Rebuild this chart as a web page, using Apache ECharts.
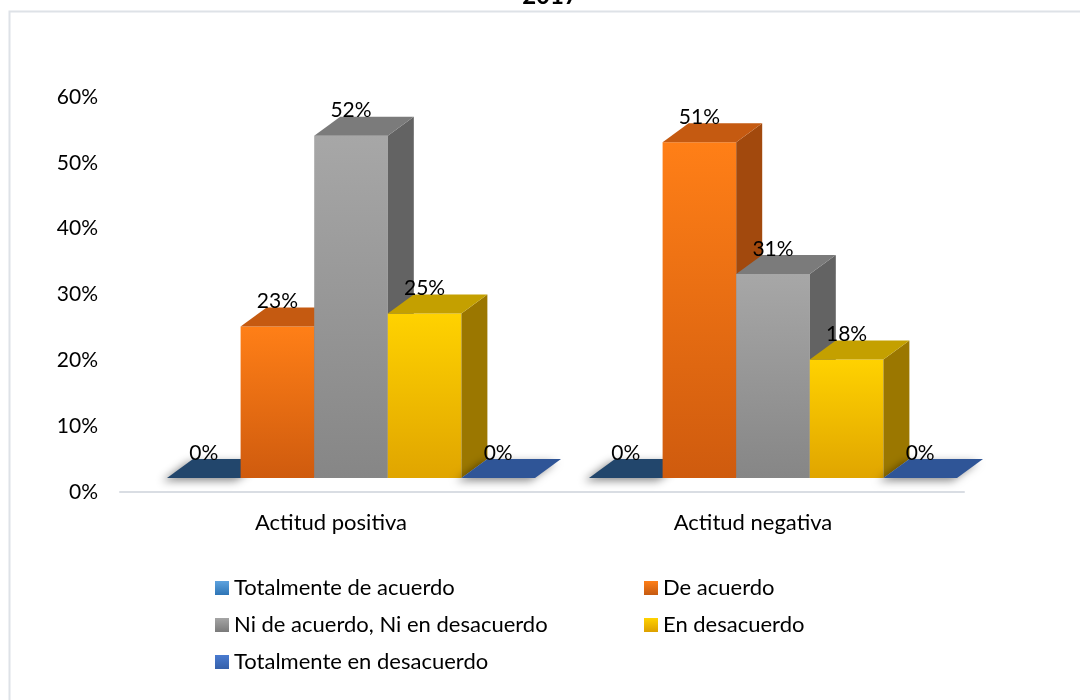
<!DOCTYPE html>
<html>
<head>
<meta charset="utf-8">
<script src="https://cdn.jsdelivr.net/npm/echarts@6/dist/echarts.min.js"></script>
<style>
  html, body { margin: 0; padding: 0; background: #fff; }
  #chart { width: 1080px; height: 700px; }
</style>
</head>
<body>
<div id="chart"></div>
<script>
// Categories and answer shares (percent)
const categories = ['Actitud positiva', 'Actitud negativa'];
const seriesNames = [
  'Totalmente de acuerdo',
  'De acuerdo',
  'Ni de acuerdo, Ni en desacuerdo',
  'En desacuerdo',
  'Totalmente en desacuerdo'
];
const totalmenteDeAcuerdo = [0, 0];
const deAcuerdo = [23, 51];
const niDeAcuerdoNiEnDesacuerdo = [52, 31];
const enDesacuerdo = [25, 18];
const totalmenteEnDesacuerdo = [0, 0];
const yAxisMin = 0;
const yAxisMax = 60;
const yAxisStep = 10;
const titleText = '2017';

const seriesValues = [
  totalmenteDeAcuerdo,
  deAcuerdo,
  niDeAcuerdoNiEnDesacuerdo,
  enDesacuerdo,
  totalmenteEnDesacuerdo
];

// Face colours for the pseudo-3D columns
const palette = [
  { front: ['#5B9BD5', '#2E75B6'], top: '#22466C', side: '#1A3A5C', legend: ['#5DA2DE', '#2E75B6'] },
  { front: ['#FF7F17', '#CF5B0E'], top: '#C55A11', side: '#A2490D', legend: ['#FF7F17', '#C55A11'] },
  { front: ['#A7A7A7', '#868686'], top: '#7B7B7B', side: '#636363', legend: ['#A5A5A5', '#7A7A7A'] },
  { front: ['#FFD200', '#E0A500'], top: '#C4A000', side: '#9B7700', legend: ['#FFD200', '#DDA000'] },
  { front: ['#4472C4', '#2F5597'], top: '#2F5597', side: '#26477E', legend: ['#4A7BD0', '#3560AA'] }
];

const FONT = 'Lato, "Open Sans", sans-serif';
const TEXT_SIZE = 22;      // category and legend text
const NUM_SIZE = 21;       // axis ticks and value labels
const BAR_FRAC = 0.1744;   // column width as a share of the category band
const LEAD = 0.1114;       // offset of the first column from the band's left edge
const DEPTH_X = 26;        // projected depth of each column
const DEPTH_Y = -19;
const LIFT = 14;           // columns stand on a floor raised above the axis line

function vgrad(c0, c1) {
  return new echarts.graphic.LinearGradient(0, 0, 0, 1, [
    { offset: 0, color: c0 },
    { offset: 1, color: c1 }
  ]);
}

function makeRenderer(s) {
  const col = palette[s];
  return function (params, api) {
    const c = api.value(0);
    const v = api.value(1);
    const base = api.coord([c, 0]);
    const top = api.coord([c, v]);
    const catW = api.size([1, 0])[0];
    const bw = catW * BAR_FRAC;
    const x0 = base[0] - catW / 2 + catW * LEAD + s * bw;
    const x1 = x0 + bw;
    const yb = base[1] - LIFT;
    const yt = top[1] - LIFT;
    const children = [];
    const flat = yb - yt < 0.5;

    if (!flat) {
      children.push({
        type: 'rect',
        shape: { x: x0, y: yt, width: bw, height: yb - yt },
        style: { fill: vgrad(col.front[0], col.front[1]) }
      });
      children.push({
        type: 'polygon',
        shape: { points: [[x1, yt], [x1 + DEPTH_X, yt + DEPTH_Y], [x1 + DEPTH_X, yb + DEPTH_Y], [x1, yb]] },
        style: { fill: col.side }
      });
    }
    const topFace = {
      type: 'polygon',
      shape: { points: [[x0, yt], [x1, yt], [x1 + DEPTH_X, yt + DEPTH_Y], [x0 + DEPTH_X, yt + DEPTH_Y]] },
      style: { fill: col.top }
    };
    if (flat) {
      topFace.style.shadowBlur = 8;
      topFace.style.shadowOffsetX = -5;
      topFace.style.shadowOffsetY = 3;
      topFace.style.shadowColor = 'rgba(0,0,0,0.45)';
    }
    children.push(topFace);
    children.push({
      type: 'text',
      z2: 10,
      style: {
        text: Math.round(v) + '%',
        x: x0 + bw / 2,
        y: yt - 25,
        align: 'center',
        verticalAlign: 'middle',
        font: NUM_SIZE + 'px ' + FONT,
        fill: '#000'
      }
    });
    return { type: 'group', children: children };
  };
}

const legendSlots = [[215, 590], [644, 590], [215, 627], [644, 627], [215, 664]];

const chart = echarts.init(document.getElementById('chart'), null, { renderer: 'canvas' });

chart.setOption({
  animation: false,
  backgroundColor: '#fff',
  graphic: [
    {
      type: 'rect',
      silent: true,
      shape: { x: 9.5, y: 11.5, width: 1200, height: 800 },
      style: { fill: 'none', stroke: '#DEE2E7', lineWidth: 2 }
    },
    {
      type: 'text',
      silent: true,
      x: 550,
      y: -4,
      style: {
        text: titleText,
        align: 'center',
        verticalAlign: 'middle',
        font: 'bold 24px ' + FONT,
        fill: '#000'
      }
    }
  ],
  grid: { left: 120, right: 116, top: 97, bottom: 208 },
  xAxis: {
    type: 'category',
    data: categories,
    boundaryGap: true,
    axisLine: { show: true, lineStyle: { color: '#D9DDE3', width: 2 } },
    axisTick: { show: false },
    axisLabel: { margin: 20, fontFamily: FONT, fontSize: TEXT_SIZE, color: '#000' },
    splitLine: { show: false }
  },
  yAxis: {
    type: 'value',
    min: yAxisMin,
    max: yAxisMax,
    interval: yAxisStep,
    axisLine: { show: false },
    axisTick: { show: false },
    splitLine: { show: false },
    axisLabel: { margin: 22, formatter: '{value}%', fontFamily: FONT, fontSize: NUM_SIZE, color: '#000' }
  },
  legend: seriesNames.map(function (name, i) {
    return {
      data: [{ name: name, icon: 'rect', itemStyle: { color: vgrad(palette[i].legend[0], palette[i].legend[1]) } }],
      left: legendSlots[i][0],
      top: legendSlots[i][1] - 13,
      padding: 0,
      itemWidth: 14,
      itemHeight: 14,
      selectedMode: false,
      textStyle: { fontFamily: FONT, fontSize: TEXT_SIZE, color: '#000' }
    };
  }),
  series: seriesNames.map(function (name, s) {
    return {
      type: 'custom',
      name: name,
      clip: false,
      itemStyle: { color: vgrad(palette[s].legend[0], palette[s].legend[1]) },
      encode: { x: 0, y: 1 },
      data: categories.map(function (c, i) { return [i, seriesValues[s][i]]; }),
      renderItem: makeRenderer(s)
    };
  })
});
</script>
</body>
</html>
